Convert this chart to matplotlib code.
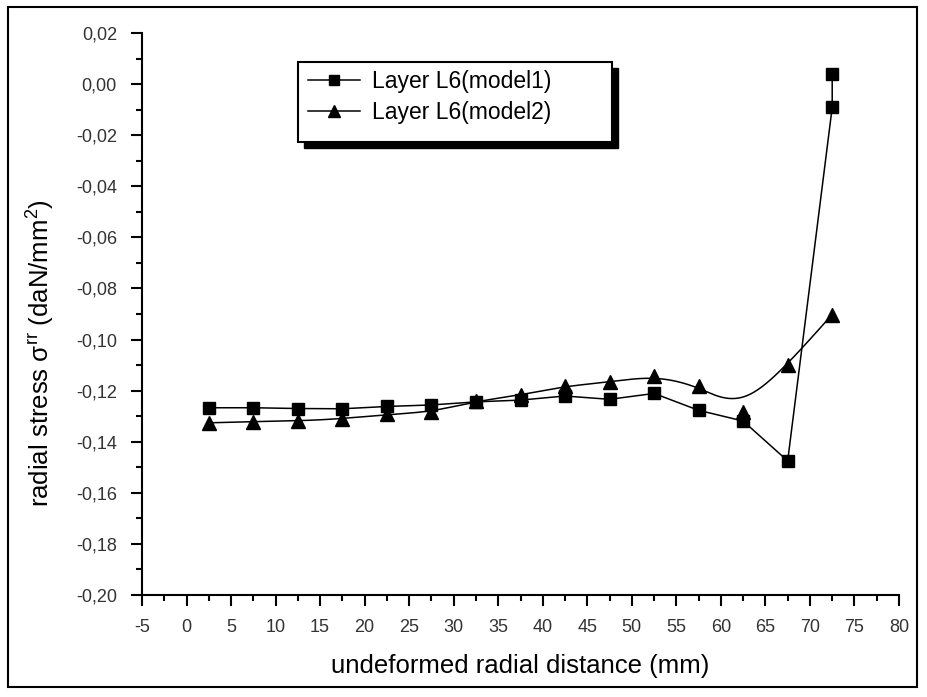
import numpy as np
import matplotlib
matplotlib.use("Agg")
import matplotlib.pyplot as plt
from matplotlib.patches import Rectangle
from matplotlib.lines import Line2D

plt.rcParams['font.family'] = ['Liberation Sans', 'DejaVu Sans']
plt.rcParams['mathtext.fontset'] = 'custom'
plt.rcParams['mathtext.rm'] = 'Liberation Sans'
plt.rcParams['mathtext.it'] = 'Liberation Sans'

# donnees
x_model1 = [2.5, 7.5, 12.5, 17.5, 22.5, 27.5, 32.5, 37.5, 42.5, 47.5,
            52.5, 57.5, 62.5, 67.5, 72.5, 72.5]
y_model1 = [-0.1267, -0.1267, -0.1270, -0.1271, -0.1262, -0.1256, -0.1244,
            -0.1237, -0.1221, -0.1234, -0.1211, -0.1277, -0.1319, -0.1475,
            -0.0091, 0.0039]

x_model2 = [2.5, 7.5, 12.5, 17.5, 22.5, 27.5, 32.5, 37.5, 42.5, 47.5,
            52.5, 57.5, 62.5, 67.5, 72.5]
y_model2 = [-0.1326, -0.1321, -0.1319, -0.1310, -0.1293, -0.1284, -0.1241,
            -0.1218, -0.1182, -0.1167, -0.1141, -0.1181, -0.1283, -0.1098,
            -0.0902]

x_ticks = list(range(-5, 81, 5))
y_ticks = [0.02, 0.00, -0.02, -0.04, -0.06, -0.08, -0.10, -0.12, -0.14,
           -0.16, -0.18, -0.20]


def bspline(px, py, n=400):
    # B-spline cubique uniforme "clamped" (comme Origin)
    P = np.column_stack([px, py])
    k = 3
    m = len(P)
    knots = np.concatenate([np.zeros(k), np.arange(m - k + 1), np.full(k, m - k)])
    t = np.linspace(0, m - k, n)
    t[-1] -= 1e-9
    N = np.zeros((n, len(knots) - 1))
    for i in range(len(knots) - 1):
        N[:, i] = (t >= knots[i]) & (t < knots[i + 1])
    for d in range(1, k + 1):
        Nn = np.zeros((n, len(knots) - 1 - d))
        for i in range(len(knots) - 1 - d):
            a = knots[i + d] - knots[i]
            b = knots[i + d + 1] - knots[i + 1]
            left = (t - knots[i]) / a * N[:, i] if a > 0 else 0
            right = (knots[i + d + 1] - t) / b * N[:, i + 1] if b > 0 else 0
            Nn[:, i] = left + right
        N = Nn
    C = N @ P
    return C[:, 0], C[:, 1]


fig = plt.figure(figsize=(9.28, 6.97), dpi=100)
ax = fig.add_axes([142 / 928, 1 - 595 / 697, (899 - 142) / 928, (595 - 33) / 697])

ax.plot(x_model1, y_model1, color='black', lw=1.1, marker='s', ms=9,
        mfc='black', mec='black')
sx, sy = bspline(x_model2, y_model2)
ax.plot(sx, sy, color='black', lw=1.1)
ax.plot(x_model2, y_model2, ls='none', marker='^', ms=9.5, color='black')

ax.set_xlim(-5, 80)
ax.set_ylim(-0.20, 0.02)
ax.set_xticks(x_ticks)
ax.set_xticks(np.arange(-2.5, 80, 5), minor=True)
ax.set_yticks(y_ticks)
ax.set_yticks(np.arange(-0.19, 0.02, 0.02), minor=True)
ax.set_yticklabels([('%.2f' % v).replace('.', ',') for v in y_ticks])
ax.set_xticklabels([str(v) for v in x_ticks])

for s in ['top', 'right']:
    ax.spines[s].set_visible(False)
for s in ['left', 'bottom']:
    ax.spines[s].set_linewidth(1.5)
ax.tick_params(which='major', direction='out', length=8, width=1.5,
               labelsize=13, labelcolor='#333333')
ax.tick_params(axis='x', which='major', pad=9.5)
ax.tick_params(axis='y', which='major', pad=10)
ax.tick_params(which='minor', direction='out', length=4.5, width=1.5)

ax.set_xlabel('undeformed radial distance (mm)', fontsize=18.5, labelpad=13)
ax.set_ylabel(r'radial stress σ$^{\mathrm{rr}}$ (daN/mm$^{2}$)', fontsize=18.5)
ax.yaxis.set_label_coords(-0.112, 0.43)

# cadre de la legende avec ombre
w, h = 928, 697
fig.patches.append(Rectangle((304 / w, 1 - 148 / h), 314 / w, 80 / h,
                             transform=fig.transFigure, color='black', zorder=5))
fig.patches.append(Rectangle((298 / w, 1 - 142 / h), 314 / w, 80 / h,
                             transform=fig.transFigure, facecolor='white',
                             edgecolor='black', lw=1.5, zorder=6))
handles = [Line2D([], [], color='black', lw=1.1, marker='s', ms=7),
           Line2D([], [], color='black', lw=1.1, marker='^', ms=8)]
fig.legend(handles, ['Layer L6(model1)', 'Layer L6(model2)'],
           loc='upper left', bbox_to_anchor=(294 / w, 1 - 56 / h),
           frameon=False, fontsize=16.5, handlelength=2.3, handletextpad=0.5,
           labelspacing=0.35, borderaxespad=0.2).set_zorder(7)

# cadre exterieur
fig.patches.append(Rectangle((8 / w, 1 - 687 / h), (917 - 8) / w, (687 - 7) / h,
                             transform=fig.transFigure, fill=False,
                             edgecolor='black', lw=1.5))

fig.savefig('out.png', dpi=100)
